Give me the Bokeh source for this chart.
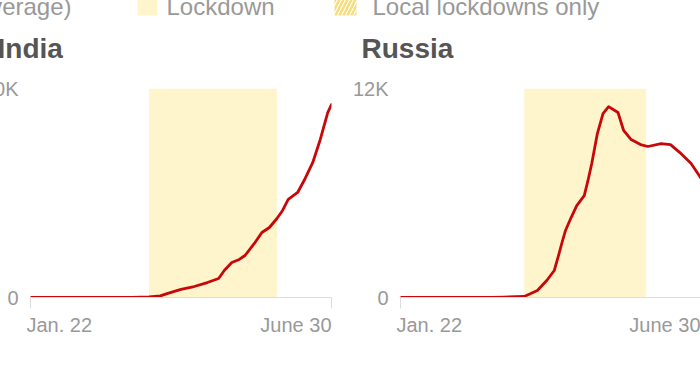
import pandas as pd
from bokeh.plotting import figure
from bokeh.models import Range1d, FixedTicker, Label, CustomJSTickFormatter
from bokeh.core.properties import value
from bokeh.layouts import row, column
from bokeh.embed import file_html
from bokeh.resources import INLINE

# ---------------- data ----------------
start_date = "2020-01-22"
end_date = "2020-06-30"
x_tick_labels = ["Jan. 22", "June 30"]

panel_titles = ["India", "Russia"]

india_dates = ["2020-01-22", "2020-03-02", "2020-03-16", "2020-03-25", "2020-03-31",
               "2020-04-04", "2020-04-11", "2020-04-18", "2020-04-25", "2020-05-01",
               "2020-05-04", "2020-05-08", "2020-05-12", "2020-05-15", "2020-05-20",
               "2020-05-24", "2020-05-28", "2020-06-01", "2020-06-04", "2020-06-07",
               "2020-06-12", "2020-06-16", "2020-06-20", "2020-06-24", "2020-06-28",
               "2020-06-30"]
india_cases = [0, 0, 20, 60, 150,
               400, 770, 1050, 1430, 1820,
               2580, 3350, 3640, 4020, 5170,
               6220, 6700, 7560, 8330, 9400,
               10050, 11390, 12900, 15100, 17700,
               18470]
india_lockdown = ["2020-03-25", "2020-06-01"]
india_y_ticks = [0, 20000]
india_y_labels = ["0", "20K"]

russia_dates = ["2020-01-22", "2020-03-10", "2020-03-17", "2020-03-28", "2020-04-04",
                "2020-04-09", "2020-04-13", "2020-04-15", "2020-04-17", "2020-04-19",
                "2020-04-22", "2020-04-25", "2020-04-29", "2020-05-01", "2020-05-03",
                "2020-05-06", "2020-05-09", "2020-05-12", "2020-05-17", "2020-05-20",
                "2020-05-24", "2020-05-29", "2020-06-02", "2020-06-09", "2020-06-14",
                "2020-06-19", "2020-06-25", "2020-06-30"]
russia_cases = [0, 0, 20, 60, 400,
                975, 1550, 2300, 3100, 3850,
                4590, 5280, 5850, 6720, 7690,
                9410, 10560, 10960, 10620, 9590,
                9070, 8780, 8670, 8840, 8780,
                8320, 7690, 6890]
russia_lockdown = ["2020-03-28", "2020-06-01"]
russia_y_ticks = [0, 12000]
russia_y_labels = ["0", "12K"]

legend_labels = ["(7-day average)", "Lockdown", "Local lockdowns only"]

# ---------------- style ----------------
FONT = "Liberation Sans"
RED = "#c80808"
SHADE = "#fff5cc"
HATCH = "#f7dc7a"
GRID = "#dddddd"
TICK_TEXT = "#999999"
TITLE_TEXT = "#555555"

PAGE_LEFT = -30
PAGE_TOP = -20
HEAD_H = 90      # legend + titles strip
PANEL_H = 290


def ms(d):
    return pd.Timestamp(d).value // 10**6


def panel(dates, cases, lockdown, y_ticks, y_labels, width, b_left, b_right):
    p = figure(width=width, height=PANEL_H, x_axis_type="datetime",
               x_range=Range1d(ms(start_date), ms(end_date)),
               y_range=Range1d(y_ticks[0], y_ticks[-1]),
               output_backend="svg", toolbar_location=None,
               min_border_left=b_left, min_border_right=b_right,
               min_border_top=18, min_border_bottom=63)
    p.outline_line_color = None
    p.background_fill_color = "white"
    p.border_fill_color = "white"

    p.quad(left=[ms(lockdown[0])], right=[ms(lockdown[1])],
           bottom=[y_ticks[0]], top=[y_ticks[-1]],
           fill_color=SHADE, line_color=None)
    p.line(pd.to_datetime(dates), cases, line_color=RED, line_width=2.8,
           line_join="round", line_cap="round")

    xa = p.xaxis[0]
    xa.ticker = FixedTicker(ticks=[ms(start_date), ms(end_date)])
    xa.formatter = CustomJSTickFormatter(code="return ''")
    xa.axis_line_color = GRID
    xa.major_tick_line_color = GRID
    xa.major_tick_in = 0
    xa.major_tick_out = 11
    xa.minor_tick_line_color = None
    p.xgrid.visible = False

    ya = p.yaxis[0]
    ya.ticker = FixedTicker(ticks=y_ticks)
    ya.major_label_overrides = {t: l for t, l in zip(y_ticks, y_labels)}
    ya.axis_line_color = None
    ya.major_tick_line_color = None
    ya.minor_tick_line_color = None
    ya.major_label_standoff = 6
    ya.major_label_text_font = FONT
    ya.major_label_text_font_size = "20px"
    ya.major_label_text_color = TICK_TEXT
    p.ygrid.ticker = FixedTicker(ticks=y_ticks)
    p.ygrid.grid_line_color = GRID

    p.add_layout(Label(x=ms(start_date), y=-5, x_units="data", y_units="screen", x_offset=-4,
                       text=x_tick_labels[0], text_font=FONT, text_font_size="20px",
                       text_color=TICK_TEXT, text_align="left", text_baseline="bottom"), "below")
    p.add_layout(Label(x=ms(end_date), y=17, x_units="data", y_units="screen",
                       text=x_tick_labels[1], text_font=FONT, text_font_size="20px",
                       text_color=TICK_TEXT, text_align="right", text_baseline="bottom"), "below")
    return p


india = panel(india_dates, india_cases, india_lockdown, india_y_ticks,
              india_y_labels, 363, 60, 2)
russia = panel(russia_dates, russia_cases, russia_lockdown, russia_y_ticks,
               russia_y_labels, 367, 67, 0)

# ---------------- legend + titles strip (page-pixel coordinates) ----------------
head = figure(width=730, height=HEAD_H,
              x_range=Range1d(PAGE_LEFT, PAGE_LEFT + 730),
              y_range=Range1d(PAGE_TOP + HEAD_H, PAGE_TOP),
              output_backend="svg", toolbar_location=None,
              min_border=0)
head.axis.visible = False
head.grid.visible = False
head.outline_line_color = None
head.background_fill_color = "white"
head.border_fill_color = "white"

head.quad(left=[137], right=[157], top=[-5], bottom=[15], fill_color=SHADE, line_color=None)
head.quad(left=[334], right=[356], top=[-5], bottom=[15], fill_color=None, line_color=None,
          hatch_pattern="/", hatch_color=HATCH, hatch_scale=8, hatch_weight=2.5)
head.text(x=[71, 166, 372], y=[6, 6, 6], text=legend_labels,
          text_align=["right", "left", "left"], text_baseline="alphabetic",
          text_font=value(FONT), text_font_size="24px", text_color=TICK_TEXT)
head.text(x=[-3, 361], y=[48, 48], text=panel_titles,
          text_align="left", text_baseline="alphabetic",
          text_font=value(FONT), text_font_size="28px", text_font_style="bold",
          text_color=TITLE_TEXT)

layout = column(head, row(india, russia), margin=(-20, -8, 0, -30))

open("out.html", "w").write(file_html(layout, INLINE))
